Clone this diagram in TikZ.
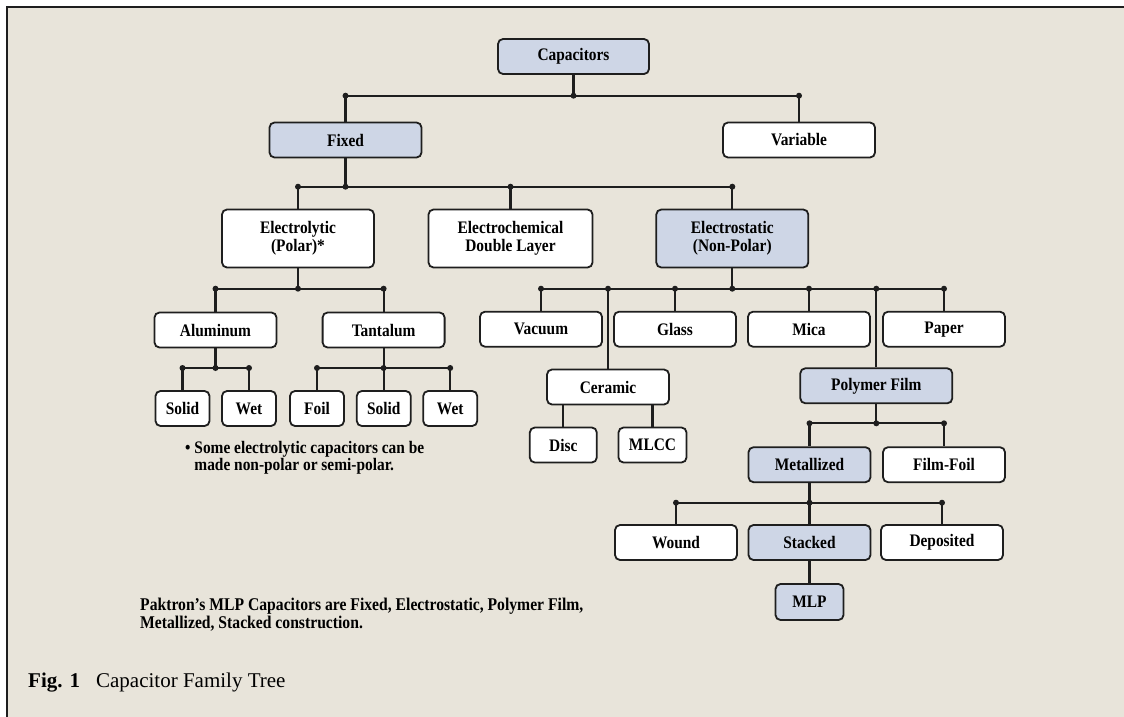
\documentclass[tikz,border=0pt]{standalone}
\usepackage{fontspec}
\setmainfont{Liberation Serif}
\newfontfamily\treefont[FakeStretch=0.875]{Liberation Serif}
\definecolor{bgbeige}{HTML}{E8E4DA}
\definecolor{famblue}{HTML}{CED6E6}
\definecolor{inkline}{HTML}{1E1E1E}
\tikzset{
  fam/.style={draw=inkline, line width=1.8pt, rounded corners=5pt, fill=white,
    minimum width=122pt, minimum height=35pt, inner sep=0pt, align=center,
    font=\treefont\bfseries\fontsize{17.6}{18.5}\selectfont},
  famhl/.style={fam, fill=famblue},
  link/.style={draw=inkline, line width=2.2pt},
  joint/.style={fill=inkline}
}
\begin{document}
\begin{tikzpicture}[x=1pt,y=1pt]
    \def\x{1}
    \def\y{-1}
    \useasboundingbox (0,0) rectangle (1124*\x,717*\y);
    \fill[white] (0,0) rectangle (1124*\x,717*\y);
    \fill[bgbeige] (7*\x,7*\y) rectangle (1124*\x,717*\y);
    \draw[inkline,line width=1.5pt] (7*\x,717*\y) -- (7*\x,7*\y) -- (1124*\x,7*\y);
    % levels
    \node[famhl,minimum width=151pt] (cap) at (573.5*\x,56.5*\y) {Capacitors};
    \node[famhl,minimum width=152pt] (fix) at (345.5*\x,140*\y) {Fixed};
    \node[fam,minimum width=152pt] (var) at (799*\x,140*\y) {Variable};
    \node[fam,minimum width=152pt,minimum height=58pt] (elyt) at (298*\x,238.5*\y) {Electrolytic\\(Polar)*};
    \node[fam,minimum width=164pt,minimum height=58pt] (echem) at (510.5*\x,238.5*\y) {Electrochemical\\Double Layer};
    \node[famhl,minimum width=152pt,minimum height=58pt] (estat) at (732.3*\x,238.5*\y) {Electrostatic\\(Non-Polar)};
    \node[fam] (alu) at (215.5*\x,330*\y) {Aluminum};
    \node[fam] (tant) at (383.6*\x,330*\y) {Tantalum};
    \node[fam,minimum width=54pt] (solA) at (182.5*\x,408.5*\y) {Solid};
    \node[fam,minimum width=54pt] (wetA) at (249*\x,408.5*\y) {Wet};
    \node[fam,minimum width=54pt] (foil) at (317*\x,408.5*\y) {Foil};
    \node[fam,minimum width=54pt] (solT) at (383.8*\x,408.5*\y) {Solid};
    \node[fam,minimum width=54pt] (wetT) at (450.2*\x,408.5*\y) {Wet};
    \node[fam] (vac) at (541*\x,329.2*\y) {Vacuum};
    \node[fam] (glass) at (675*\x,329.2*\y) {Glass};
    \node[fam] (mica) at (809*\x,329.2*\y) {Mica};
    \node[fam] (paper) at (944*\x,329.2*\y) {Paper};
    \node[fam] (cer) at (608*\x,387*\y) {Ceramic};
    \node[fam,minimum width=67pt] (disc) at (563.3*\x,445*\y) {Disc};
    \node[fam,minimum width=68pt] (mlcc) at (652.5*\x,445*\y) {MLCC};
    \node[famhl,minimum width=152pt] (poly) at (876.3*\x,385.8*\y) {Polymer Film};
    \node[famhl] (met) at (809.5*\x,464.7*\y) {Metallized};
    \node[fam] (ffoil) at (944*\x,464.7*\y) {Film-Foil};
    \node[fam] (wound) at (676*\x,542.5*\y) {Wound};
    \node[famhl] (stack) at (809.5*\x,542.5*\y) {Stacked};
    \node[fam] (depo) at (942*\x,542.5*\y) {Deposited};
    \node[famhl,minimum width=68pt,minimum height=36pt] (mlp) at (809.5*\x,602*\y) {MLP};
    % buses
    \coordinate (b1) at (0,95.7*\y);
    \coordinate (b2) at (0,186.7*\y);
    \coordinate (b3) at (0,288.7*\y);
    \coordinate (b4) at (0,368*\y);
    \coordinate (b5) at (0,423.3*\y);
    \coordinate (b6) at (0,502.7*\y);
    \draw[link] (cap) -- (cap |- b1) (fix |- b1) -- (var |- b1);
    \foreach \n in {fix,var} \draw[link] (\n |- b1) -- (\n);
    \foreach \n in {fix,cap,var} \fill[joint] (\n |- b1) circle (3pt);
    \draw[link] (fix) -- (fix |- b2) (elyt |- b2) -- (estat |- b2);
    \foreach \n in {elyt,echem,estat} \draw[link] (\n |- b2) -- (\n);
    \foreach \n in {elyt,fix,echem,estat} \fill[joint] (\n |- b2) circle (3pt);
    \draw[link] (elyt) -- (elyt |- b3) (alu |- b3) -- (tant |- b3);
    \foreach \n in {alu,tant} \draw[link] (\n |- b3) -- (\n);
    \foreach \n in {alu,elyt,tant} \fill[joint] (\n |- b3) circle (3pt);
    \draw[link] (estat) -- (estat |- b3) (vac |- b3) -- (paper |- b3);
    \foreach \n in {vac,cer,glass,mica,poly,paper} \draw[link] (\n |- b3) -- (\n);
    \foreach \n in {vac,cer,glass,estat,mica,poly,paper} \fill[joint] (\n |- b3) circle (3pt);
    \draw[link] (alu) -- (alu |- b4) (solA |- b4) -- (wetA |- b4);
    \draw[link] (tant) -- (tant |- b4) (foil |- b4) -- (wetT |- b4);
    \foreach \n in {solA,wetA,foil,solT,wetT} \draw[link] (\n |- b4) -- (\n);
    \foreach \n in {solA,alu,wetA,foil,tant,wetT} \fill[joint] (\n |- b4) circle (3pt);
    \draw[link] (cer.south -| disc) -- (disc);
    \draw[link] (cer.south -| mlcc) -- (mlcc);
    \draw[link] (poly) -- (poly |- b5) (met |- b5) -- (ffoil |- b5);
    \foreach \n in {met,ffoil} \draw[link] (\n |- b5) -- (\n);
    \foreach \n in {met,poly,ffoil} \fill[joint] (\n |- b5) circle (3pt);
    \draw[link] (met) -- (met |- b6) (wound |- b6) -- (depo |- b6);
    \foreach \n in {wound,stack,depo} \draw[link] (\n |- b6) -- (\n);
    \foreach \n in {wound,met,depo} \fill[joint] (\n |- b6) circle (3pt);
    \draw[link] (stack) -- (mlp);
    % notes
    \node[anchor=north west,inner sep=0pt,align=left,font=\treefont\bfseries\fontsize{17.6}{17.5}\selectfont]
      (note) at (185*\x,441*\y) {• Some electrolytic capacitors can be\\\hphantom{• }made non-polar or semi-polar.};
    \node[anchor=north west,inner sep=0pt,align=left,font=\treefont\bfseries\fontsize{17.9}{18.2}\selectfont]
      (mlpnote) at (140*\x,598*\y) {Paktron’s MLP Capacitors are Fixed, Electrostatic, Polymer Film,\\Metallized, Stacked construction.};
    \node[anchor=west,inner sep=0pt,font=\fontsize{21}{25}\selectfont]
      (caption) at (28*\x,683*\y) {\textbf{Fig. 1}\hspace{16pt}Capacitor Family Tree};
\end{tikzpicture}
\end{document}
